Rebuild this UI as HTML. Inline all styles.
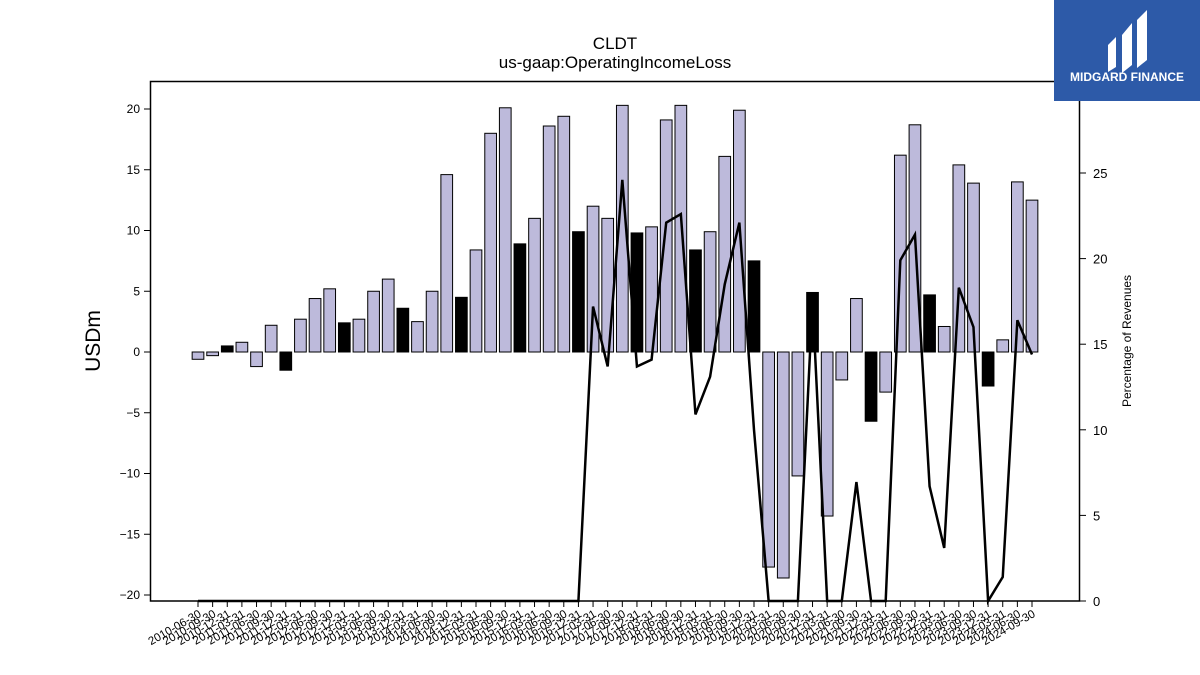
<!DOCTYPE html>
<html><head><meta charset="utf-8"><style>
body{margin:0;background:#fff;}
svg{display:block;font-family:"Liberation Sans","DejaVu Sans",sans-serif;}
</style></head><body>
<svg id="chart" width="1200" height="675" viewBox="0 0 1200 675">
<text x="615" y="49" text-anchor="middle" font-size="17">CLDT</text>
<text x="615" y="68" text-anchor="middle" font-size="17">us-gaap:OperatingIncomeLoss</text>
<text transform="translate(100,341) rotate(-90)" text-anchor="middle" font-size="21">USDm</text>
<text transform="translate(1131,341) rotate(-90)" text-anchor="middle" font-size="12">Percentage of Revenues</text>
<g id="bars"></g><g id="line"></g><g id="axes"></g>
<rect x="150.5" y="81.5" width="929" height="519.5" fill="none" stroke="#000" stroke-width="1.5"/>
<g>
<rect x="1054" y="0" width="146" height="101" fill="#2d5aa8"/>
<path d="M1108 45 l8 -8 v30 l-8 5z M1122 35 l10 -12 v42 l-10 8z M1137 20 l10 -10 v50 l-10 8z" fill="#fff"/>
<text x="1127" y="81" text-anchor="middle" font-size="12" font-weight="bold" fill="#fff">MIDGARD FINANCE</text>
</g>
</svg>
<script>
const categories=["2010-06-30","2010-09-30","2010-12-31","2011-03-31","2011-06-30","2011-09-30","2011-12-31","2012-03-31","2012-06-30","2012-09-30","2012-12-31","2013-03-31","2013-06-30","2013-09-30","2013-12-31","2014-03-31","2014-06-30","2014-09-30","2014-12-31","2015-03-31","2015-06-30","2015-09-30","2015-12-31","2016-03-31","2016-06-30","2016-09-30","2016-12-31","2017-03-31","2017-06-30","2017-09-30","2017-12-31","2018-03-31","2018-06-30","2018-09-30","2018-12-31","2019-03-31","2019-06-30","2019-09-30","2019-12-31","2020-03-31","2020-06-30","2020-09-30","2020-12-31","2021-03-31","2021-06-30","2021-09-30","2021-12-31","2022-03-31","2022-06-30","2022-09-30","2022-12-31","2023-03-31","2023-06-30","2023-09-30","2023-12-31","2024-03-31","2024-06-30","2024-09-30"];
const income=[-0.6,-0.3,0.5,0.8,-1.2,2.2,-1.5,2.7,4.4,5.2,2.4,2.7,5.0,6.0,3.6,2.5,5.0,14.6,4.5,8.4,18.0,20.1,8.9,11.0,18.6,19.4,9.9,12.0,11.0,20.3,9.8,10.3,19.1,20.3,8.4,9.9,16.1,19.9,7.5,-17.7,-18.6,-10.2,4.9,-13.5,-2.3,4.4,-5.7,-3.3,16.2,18.7,4.7,2.1,15.4,13.9,-2.8,1.0,14.0,12.5];
const pct=[0,0,0,0,0,0,0,0,0,0,0,0,0,0,0,0,0,0,0,0,0,0,0,0,0,0,0,17.2,13.7,24.6,13.7,14.1,22.1,22.6,10.9,13.1,18.5,22.1,10.0,0,0,0,17.5,0,0,6.95,0,0,19.9,21.4,6.7,3.1,18.3,16.0,0,1.4,16.4,14.4];
const yTicks=[-20,-15,-10,-5,0,5,10,15,20];
const y2Ticks=[0,5,10,15,20,25];
const NS="http://www.w3.org/2000/svg";
const x0=198,step=(1032-198)/57;
const xPos=i=>x0+i*step;
const yL=v=>352-v*12.15;
const yR=v=>601-v*17.12;
function mk(t,a,p){const e=document.createElementNS(NS,t);for(const k in a)e.setAttribute(k,a[k]);p.appendChild(e);return e;}
const bars=document.getElementById('bars');
income.forEach((v,i)=>{
 const top=Math.min(yL(v),yL(0)),h=Math.abs(yL(v)-yL(0));
 const r=mk('rect',{x:xPos(i)-5.85,y:top,width:11.7,height:h,fill:(i%4===2)?'#000':'#bdbadb',stroke:'#000','stroke-width':1},bars);
 
 
});
const lineG=document.getElementById('line');
const pl=mk('polyline',{points:pct.map((v,i)=>xPos(i)+','+yR(v)).join(' '),fill:'none',stroke:'#000','stroke-width':2.5,'stroke-linejoin':'miter'},lineG);


const ax=document.getElementById('axes');
yTicks.forEach(v=>{
 mk('line',{x1:144,x2:150,y1:yL(v),y2:yL(v),stroke:'#000'},ax);
 const t=mk('text',{x:140,y:yL(v)+4,'text-anchor':'end','font-size':12},ax);
 t.textContent=v<0?'\u2212'+Math.abs(v):String(v);
 
 
});
y2Ticks.forEach(v=>{
 mk('line',{x1:1080,x2:1086,y1:yR(v),y2:yR(v),stroke:'#000'},ax);
 const t=mk('text',{x:1093,y:yR(v)+5,'font-size':13},ax);
 t.textContent=String(v);
 
 
});
categories.forEach((c,i)=>{
 const x=xPos(i);
 mk('line',{x1:x,x2:x,y1:601,y2:607,stroke:'#000'},ax);
 const t=mk('text',{x:0,y:0,'text-anchor':'end','font-size':11.5,transform:`translate(${x+4},${616}) rotate(-30)`},ax);
 t.textContent=c;
 
 
});
</script>
</body></html>
